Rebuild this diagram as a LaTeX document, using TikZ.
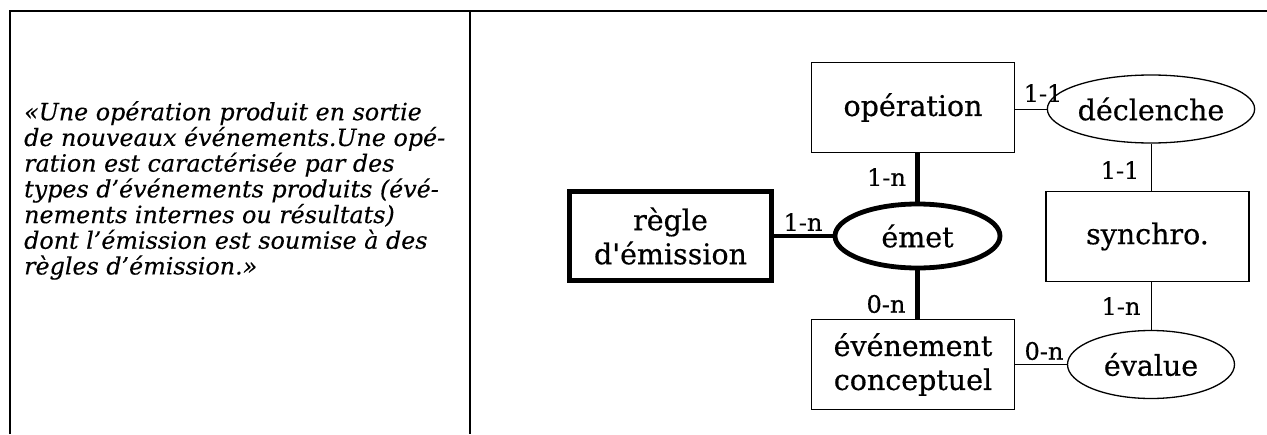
\documentclass[tikz,border=0pt]{standalone}
\usepackage{fontspec}
\setmainfont{DejaVu Serif}
\newfontfamily\diagfont[FakeBold=0.5]{DejaVu Serif}
\newfontfamily\quotefont[FakeBold=0.3]{DejaVu Serif Italic}
\usetikzlibrary{shapes.geometric}
\begin{document}
\begin{tikzpicture}[x=1pt,y=-1pt,
  entity/.style={draw, line width=1.3pt, rectangle, inner sep=0pt,
    minimum width=203pt, minimum height=90pt, align=center,
    font=\diagfont\fontsize{28.5}{34}\selectfont},
  relation/.style={draw, ellipse, line width=1.3pt, inner sep=0pt,
    minimum width=167pt, minimum height=68pt,
    font=\diagfont\fontsize{28.5}{34}\selectfont},
  heavy/.style={line width=4.8pt},
  light/.style={line width=1pt},
  card/.style={inner sep=0pt, font=\diagfont\fontsize{24}{27}\selectfont},
  frame/.style={line width=2pt}
]
\useasboundingbox (0,0) rectangle (1267,434);
% table frame
\coordinate (tl) at (10,11);
\coordinate (tr) at (1267,11);
\coordinate (bl) at (10,434);
\coordinate (tm) at (470,11);
\coordinate (bm) at (470,434);
\draw[frame] (bl) -- (tl) -- (tr);
\draw[frame] (tm) -- (bm);

% quotation
\node[anchor=north west, inner sep=0pt, align=left,
  font=\quotefont\fontsize{23.8}{25.7}\selectfont] (quote) at (24,101)
  {«Une opération produit en sortie\\
   de nouveaux événements.Une opé-\\
   ration est caractérisée par des\\
   types d’événements produits (évé-\\
   nements internes ou résultats)\\
   dont l’émission est soumise à des\\
   règles d’émission.»};

% entities
\node[entity, line width=4.8pt, minimum width=202pt, minimum height=89pt] (regle) at (670.5,236) {règle\\d'émission};
\node[entity] (op) at (913,107.5) {opération};
\node[entity] (evt) at (913,364.5) {événement\\conceptuel};
\node[entity] (syn) at (1147.5,236.5) {synchro.};

% relations
\node[relation, line width=4.8pt, minimum width=165pt, minimum height=64pt] (emet) at (917.5,236) {émet};
\node[relation] (decl) at (1151,109) {déclenche};
\node[relation] (eval) at (1151,364.5) {évalue};

% connectors
\draw[heavy] (emet.north) -- (emet.north |- op.south);
\draw[heavy] (emet.south) -- (emet.south |- evt.north);
\draw[heavy] (regle.east) -- (regle.east -| emet.west);
\draw[light] (op.east |- decl.west) -- (decl.west);
\draw[light] (decl.south) -- (decl.south |- syn.north);
\draw[light] (eval.north) -- (eval.north |- syn.south);
\draw[light] (evt.east |- eval.west) -- (eval.west);

% cardinalities
\node[card] (c1) at (886.5,177) {1-n};
\node[card] (c2) at (803,222) {1-n};
\node[card] (c3) at (886,304) {0-n};
\node[card] (c4) at (1043,93) {1-1};
\node[card] (c5) at (1120,170) {1-1};
\node[card] (c6) at (1121,306) {1-n};
\node[card] (c7) at (1044,351) {0-n};
\end{tikzpicture}
\end{document}
